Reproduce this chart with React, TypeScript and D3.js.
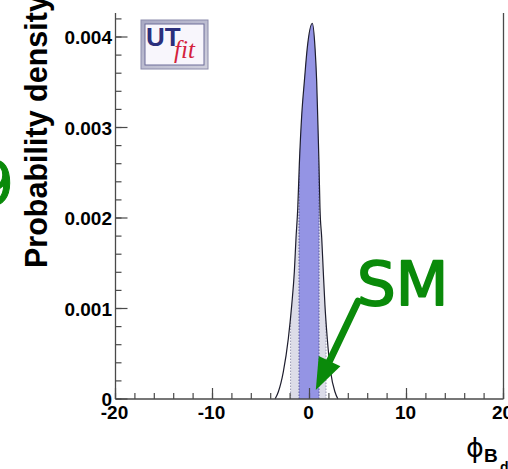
import React from "react";
import * as d3 from "d3";

// ---- data ----
const phiValues = [-3.55, -3.21, -2.7, -2.18, -1.83, -1.56, -1.39, -1.21, -1.05, -0.8, -0.53, -0.23, 0.29, 0.57, 0.74, 0.84, 0.98, 1.08, 1.26, 1.42, 1.59, 1.83, 2.18, 2.62, 2.93];
const densityValues = [0, 0.00008, 0.0003, 0.00067, 0.00104, 0.00141, 0.00178, 0.00211, 0.00259, 0.00314, 0.00351, 0.00388, 0.00415, 0.00388, 0.00351, 0.00314, 0.00259, 0.00211, 0.00178, 0.00141, 0.00104, 0.00067, 0.0003, 0.00008, 0];
const interval68 = [-1.08, 0.98];
const interval95 = [-1.95, 1.7];
const xMajorTicks = [-20, -10, 0, 10, 20];
const xTickLabels = ["-20", "-10", "0", "10", "20"];
const yMajorTicks = [0, 0.001, 0.002, 0.003, 0.004];
const yTickLabels = ["0", "0.001", "0.002", "0.003", "0.004"];
const smPoint = { x: 4.9, y: 0.00104 };
const arrowTail = { x: 5.0, y: 0.00108 };
const arrowTip = { x: 0.65, y: 0.0001 };

const W = 508;
const H = 469;
const left = 115.5;
const right = 503.5;
const bottom = 399;
const top = 13;

export default function App() {
  const x = d3.scaleLinear().domain([-20, 20]).range([left, right]);
  const y = d3.scaleLinear().domain([0, 0.004]).range([bottom, 37]);
  const yTopVal = y.invert(top);

  const pts = phiValues.map((p, i) => [p, densityValues[i]] as [number, number]);
  const area = d3
    .area<[number, number]>()
    .x((d) => x(d[0]))
    .y0(y(0))
    .y1((d) => y(d[1]))
    .curve(d3.curveMonotoneX);
  const line = d3
    .line<[number, number]>()
    .x((d) => x(d[0]))
    .y((d) => y(d[1]))
    .curve(d3.curveMonotoneX);
  const areaPath = area(pts) || "";
  const linePath = line(pts) || "";

  const xMinor = d3.range(-20, 20.001, 2);
  const yMinor = d3.range(0, yTopVal, 0.0002);

  const axisColor = "#4a4a4a";
  const font = "'Liberation Sans', Arial, Helvetica, sans-serif";
  const green = "#0a8a0a";

  // arrow geometry
  const tx = x(arrowTip.x), ty = y(arrowTip.y);
  const sx = x(arrowTail.x), sy = y(arrowTail.y);
  const len = Math.hypot(tx - sx, ty - sy);
  const ux = (tx - sx) / len, uy = (ty - sy) / len;
  const headL = 32, headW = 12;
  const bx = tx - ux * headL, by = ty - uy * headL;
  const head = [
    [tx, ty],
    [bx - uy * headW, by + ux * headW],
    [bx + uy * headW, by - ux * headW],
  ];

  return (
    <svg
      width={W}
      height={H}
      style={{ position: "absolute", left: 0, top: 0, display: "block", background: "#fff" }}
    >
      <defs>
        <clipPath id="under">
          <path d={areaPath} />
        </clipPath>
        <clipPath id="c95">
          <rect x={x(interval95[0])} y={0} width={x(interval95[1]) - x(interval95[0])} height={H} />
        </clipPath>
        <clipPath id="c68">
          <rect x={x(interval68[0])} y={0} width={x(interval68[1]) - x(interval68[0])} height={H} />
        </clipPath>
        <linearGradient id="logoFrame" x1="0" y1="0" x2="1" y2="1">
          <stop offset="0" stopColor="#a9a9c4" />
          <stop offset="1" stopColor="#d0d0dd" />
        </linearGradient>
      </defs>

      {/* distribution */}
      <g clipPath="url(#c95)">
        <path d={areaPath} fill="#dcdce8" />
      </g>
      <g clipPath="url(#c68)">
        <path d={areaPath} fill="#9494e4" />
      </g>
      <g clipPath="url(#under)">
        {interval95.map((v, i) => (
          <line key={"a" + i} x1={x(v)} x2={x(v)} y1={y(0)} y2={top} stroke="#9a9ab4" strokeWidth={1} strokeDasharray="1.5 1.5" />
        ))}
        {interval68.map((v, i) => (
          <line key={"b" + i} x1={x(v)} x2={x(v)} y1={y(0)} y2={top} stroke="#5b5b9a" strokeWidth={1} strokeDasharray="1.5 1.5" />
        ))}
      </g>
      <path d={linePath} fill="none" stroke="#1e1e2e" strokeWidth={1.2} />

      {/* frame */}
      <line x1={left} x2={left} y1={top} y2={bottom} stroke={axisColor} strokeWidth={1.3} />
      <line x1={right} x2={right} y1={top} y2={bottom} stroke={axisColor} strokeWidth={1.3} />
      <line x1={left} x2={right} y1={bottom} y2={bottom} stroke={axisColor} strokeWidth={1.3} />

      {/* x ticks */}
      {xMinor.map((v) => (
        <line key={"xm" + v} x1={x(v)} x2={x(v)} y1={bottom} y2={bottom - 6} stroke={axisColor} strokeWidth={1.2} />
      ))}
      {xMajorTicks.map((v) => (
        <line key={"xM" + v} x1={x(v)} x2={x(v)} y1={bottom} y2={bottom - 11} stroke={axisColor} strokeWidth={1.2} />
      ))}
      {xMajorTicks.map((v, i) => (
        <text key={"xl" + v} x={x(v) - 1} y={419} textAnchor="middle" fontFamily={font} fontWeight="bold" fontSize={19} fill="#000">
          {xTickLabels[i]}
        </text>
      ))}

      {/* y ticks */}
      {yMinor.map((v, i) => (
        <line key={"ym" + i} x1={left} x2={left + 6} y1={y(v)} y2={y(v)} stroke={axisColor} strokeWidth={1.2} />
      ))}
      {yMajorTicks.map((v) => (
        <line key={"yM" + v} x1={left} x2={left + 12} y1={y(v)} y2={y(v)} stroke={axisColor} strokeWidth={1.2} />
      ))}
      {yMajorTicks.map((v, i) => (
        <text key={"yl" + v} x={112} y={y(v) + 7} textAnchor="end" fontFamily={font} fontWeight="bold" fontSize={19} fill="#000">
          {yTickLabels[i]}
        </text>
      ))}

      {/* axis titles */}
      <text
        transform={`translate(47,268) rotate(-90)`}
        fontFamily={font}
        fontWeight="bold"
        fontSize={30.5}
        fill="#000"
      >
        Probability density
      </text>
      <text x={466} y={457} fontFamily="'DejaVu Sans', sans-serif" fontSize={27} fill="#000">ϕ</text>
      <text x={484} y={462} fontFamily={font} fontWeight="bold" fontSize={19} fill="#000">B</text>
      <text x={500} y={472} fontFamily={font} fontWeight="bold" fontSize={14} fill="#000">d</text>

      {/* UTfit logo */}
      <g>
        <rect x={141} y={20} width={67} height={49} fill="url(#logoFrame)" stroke="#8c8cab" strokeWidth={1} />
        <rect x={145} y={24} width={59} height={41} fill="#f8f6fc" stroke="#6c6c98" strokeWidth={1} />
        <text x={146} y={46} fontFamily={font} fontWeight="bold" fontSize={26} fill="#2b2f7c">UT</text>
        <text x={174} y={58} fontFamily="'Liberation Serif', serif" fontStyle="italic" fontSize={25} fill="#d4213d">fit</text>
      </g>

      {/* annotations */}
      <text x={x(smPoint.x)} y={y(smPoint.y)} fontFamily="'DejaVu Sans', sans-serif" fontSize={61} fill={green} stroke={green} strokeWidth={1.8} strokeLinejoin="round">SM</text>
      <line x1={sx} y1={sy} x2={bx} y2={by} stroke={green} strokeWidth={7} strokeLinecap="round" />
      <polygon points={head.map((p) => p.join(",")).join(" ")} fill={green} />
      <text x={14} y={205} textAnchor="end" fontFamily="'DejaVu Sans', sans-serif" fontSize={60} fill={green} stroke={green} strokeWidth={1}>9</text>
    </svg>
  );
}
